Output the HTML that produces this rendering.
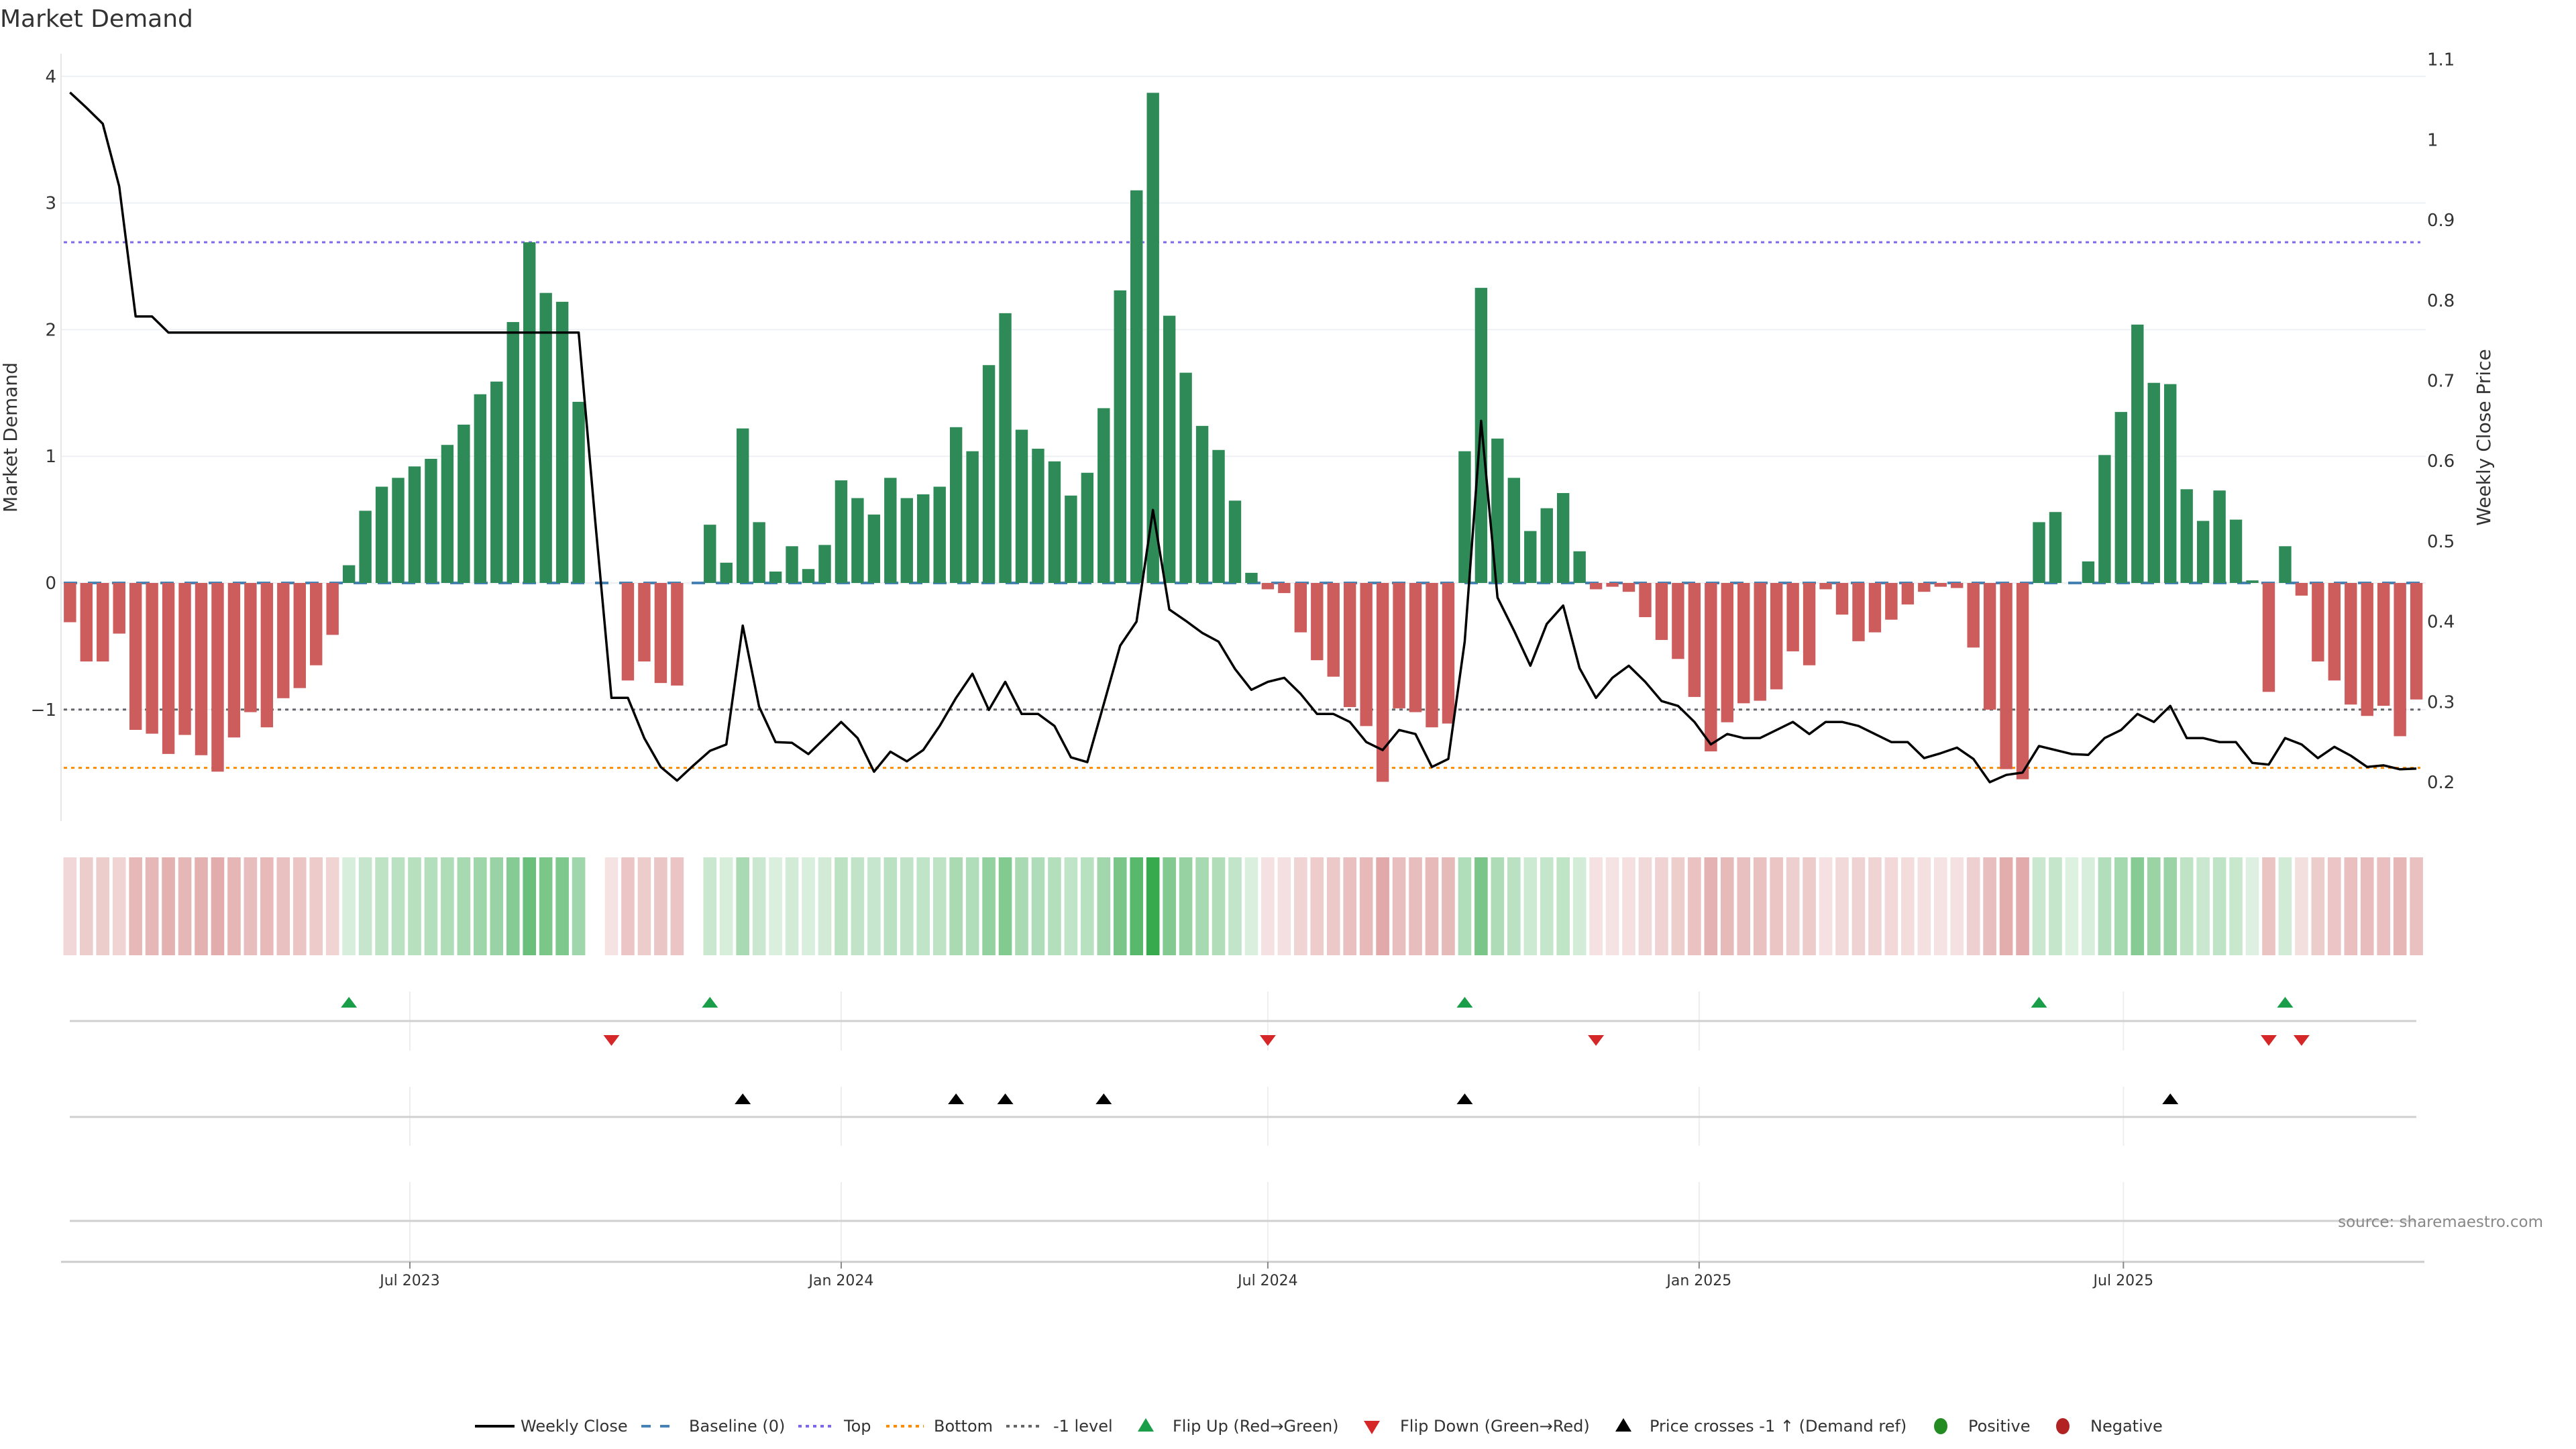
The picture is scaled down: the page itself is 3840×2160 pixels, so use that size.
<!DOCTYPE html>
<html><head><meta charset="utf-8"><style>
html,body{margin:0;padding:0;background:#fff;}
svg{display:block;font-family:"DejaVu Sans","Liberation Sans",sans-serif;}
</style></head><body>
<svg id="chart" width="3840" height="2160" viewBox="0 0 3840 2160" xmlns="http://www.w3.org/2000/svg">
<text x="0" y="40" font-size="36" fill="#333">Market Demand</text>
<g id="grid"></g><g id="hlines"></g><g id="bars"></g><g id="line"></g><g id="heat"></g><g id="events"></g><g id="axes"></g><g id="legend"></g>
</svg>
<script>
const demand=[-0.31,-0.62,-0.62,-0.40,-1.16,-1.19,-1.35,-1.20,-1.36,-1.49,-1.22,-1.02,-1.14,-0.91,-0.83,-0.65,-0.41,0.14,0.57,0.76,0.83,0.92,0.98,1.09,1.25,1.49,1.59,2.06,2.69,2.29,2.22,1.43,null,-0.01,-0.77,-0.62,-0.79,-0.81,null,0.46,0.16,1.22,0.48,0.09,0.29,0.11,0.30,0.81,0.67,0.54,0.83,0.67,0.70,0.76,1.23,1.04,1.72,2.13,1.21,1.06,0.96,0.69,0.87,1.38,2.31,3.10,3.87,2.11,1.66,1.24,1.05,0.65,0.08,-0.05,-0.08,-0.39,-0.61,-0.74,-0.98,-1.13,-1.57,-0.99,-1.02,-1.14,-1.11,1.04,2.33,1.14,0.83,0.41,0.59,0.71,0.25,-0.05,-0.03,-0.07,-0.27,-0.45,-0.60,-0.90,-1.33,-1.10,-0.95,-0.93,-0.84,-0.54,-0.65,-0.05,-0.25,-0.46,-0.39,-0.29,-0.17,-0.07,-0.03,-0.04,-0.51,-1.00,-1.47,-1.55,0.48,0.56,0.01,0.17,1.01,1.35,2.04,1.58,1.57,0.74,0.49,0.73,0.50,0.02,-0.86,0.29,-0.10,-0.62,-0.77,-0.96,-1.05,-0.97,-1.21,-0.92];
const closePrice=[1.059,1.040,1.020,0.942,0.780,0.780,0.760,0.760,0.760,0.760,0.760,0.760,0.760,0.760,0.760,0.760,0.760,0.760,0.760,0.760,0.760,0.760,0.760,0.760,0.760,0.760,0.760,0.760,0.760,0.760,0.760,0.760,0.528,0.305,0.305,0.255,0.219,0.202,0.221,0.239,0.247,0.395,0.294,0.250,0.249,0.235,0.255,0.275,0.255,0.213,0.238,0.226,0.240,0.270,0.305,0.335,0.290,0.325,0.285,0.285,0.270,0.231,0.225,0.297,0.370,0.400,0.539,0.415,0.401,0.386,0.375,0.341,0.315,0.325,0.330,0.310,0.285,0.285,0.275,0.250,0.240,0.265,0.260,0.219,0.229,0.375,0.650,0.430,0.389,0.345,0.397,0.420,0.342,0.305,0.330,0.345,0.325,0.301,0.295,0.275,0.247,0.260,0.255,0.255,0.265,0.275,0.260,0.275,0.275,0.270,0.260,0.250,0.250,0.230,0.236,0.243,0.229,0.200,0.209,0.212,0.245,0.240,0.235,0.234,0.255,0.265,0.285,0.275,0.295,0.255,0.255,0.250,0.250,0.224,0.222,0.255,0.247,0.230,0.244,0.233,0.219,0.221,0.216,0.217];
const flipUp=[17,39,85,120,135];
const flipDown=[33,73,93,134,136];
const priceCross=[41,54,57,63,85,128];
const leftTicks=[4,3,2,1,0,-1];
const rightTicks=[1.1,1,0.9,0.8,0.7,0.6,0.5,0.4,0.3,0.2];
const xTickLabels=["Jul 2023","Jan 2024","Jul 2024","Jan 2025","Jul 2025"];
const xTickDates=["2023-07-01","2024-01-01","2024-07-01","2025-01-01","2025-07-01"];
const startDate="2023-02-06";
const levelTop=2.69, levelBottom=-1.46, levelMinus1=-1;

const NS="http://www.w3.org/2000/svg";
function el(tag,attrs,parent,text){const e=document.createElementNS(NS,tag);for(const k in attrs)e.setAttribute(k,attrs[k]);if(text!==undefined)e.textContent=text;parent.appendChild(e);return e;}
const DAY=86400000, t0=Date.parse("2023-07-01"), pxDay=24.46/7;
function xDate(s){return 611+(Date.parse(s)-t0)/DAY*pxDay;}
const x0=xDate(startDate);
function xi(i){return x0+i*24.46;}
function yD(v){return 869-v*188.8;}
function yP(p){return 1166-(p-0.2)*1197;}
const G=id=>document.getElementById(id);

leftTicks.forEach(v=>{
 const l=el('line',{x1:91,x2:3616,y1:yD(v),y2:yD(v),stroke:'#eef0f6','stroke-width':2},G('grid'));
 
 
 const t=el('text',{x:84,y:yD(v)+9,'text-anchor':'end','font-size':26,fill:'#333'},G('axes'),v<0?'\u2212'+Math.abs(v):String(v));
 
 
});
el('line',{x1:91,x2:91,y1:80,y2:1224,stroke:'#e6e6e6','stroke-width':2},G('grid'));
rightTicks.forEach(v=>{
 const t=el('text',{x:3618,y:yP(v)+9,'font-size':26,fill:'#333'},G('axes'),String(v));
 
 
});
let a=el('text',{x:0,y:0,'font-size':28,fill:'#333','text-anchor':'middle',transform:'translate(25,652) rotate(-90)'},G('axes'),'Market Demand');

a=el('text',{x:0,y:0,'font-size':28,fill:'#333','text-anchor':'middle',transform:'translate(3712,652) rotate(-90)'},G('axes'),'Weekly Close Price');


demand.forEach((v,i)=>{
 if(v===null||Math.abs(v)<0.015)return;
 const y=Math.min(yD(v),yD(0)),h=Math.abs(yD(v)-yD(0));
 const r=el('rect',{x:xi(i)-9.2,y:y,width:18.4,height:Math.max(h,1),fill:v>=0?'#2e8b57':'#cd5c5c'},G('bars'));
 
 
});
const hl=[[0,'#4682b4','20 16',4,'baseline-line'],[levelTop,'#7b68ee','5 6',3,'top-level-line'],[levelBottom,'#ff8c00','5 6',3,'bottom-level-line'],[levelMinus1,'#666','5 6',3,'minus1-level-line']];
hl.forEach(h=>{
 const l=el('line',{x1:95,x2:3608,y1:yD(h[0]),y2:yD(h[0]),stroke:h[1],'stroke-dasharray':h[2],'stroke-width':h[3]},G('hlines'));
 
 
});
const pl=el('polyline',{points:closePrice.map((p,i)=>xi(i).toFixed(1)+','+yP(p).toFixed(1)).join(' '),fill:'none',stroke:'#000','stroke-width':3.5,'stroke-linejoin':'round'},G('line'));



const mx=3.87;
demand.forEach((v,i)=>{
 if(v===null)return;
 const al=0.15+0.75*Math.abs(v)/mx;
 const base=v>=0?[33,160,58]:[190,66,66];
 const c=base.map(b=>Math.round(255-(255-b)*al));
 const r=el('rect',{x:xi(i)-9.8,y:1278,width:19.6,height:146,fill:'rgb('+c.join(',')+')'},G('heat'));
 
 
});

[[1522,1478,1566],[1665,1620,1708],[1820,1762,1881]].forEach(r=>{
 xTickDates.forEach(d=>{el('line',{x1:xDate(d),x2:xDate(d),y1:r[1],y2:r[2],stroke:'#eceff2','stroke-width':2},G('grid'));});
 const l=el('line',{x1:104,x2:3602,y1:r[0],y2:r[0],stroke:'#d0d0d0','stroke-width':3},G('events'));
 
 
});
function tri(x,y,up,fill,name){
 const p=up?[[x-12,y+8],[x+12,y+8],[x,y-8]]:[[x-12,y-8],[x+12,y-8],[x,y+8]];
 const t=el('polygon',{points:p.map(q=>q.join(',')).join(' '),fill:fill},G('events'));
 
 
}
flipUp.forEach(i=>tri(xi(i),1494,true,'#1a9e4a','flip-up-marker'));
flipDown.forEach(i=>tri(xi(i),1551,false,'#d62728','flip-down-marker'));
priceCross.forEach(i=>tri(xi(i),1638,true,'#000','price-cross-marker'));

el('line',{x1:91,x2:3614,y1:1881,y2:1881,stroke:'#ccc','stroke-width':3},G('axes'));
xTickDates.forEach((d,k)=>{
 el('line',{x1:xDate(d),x2:xDate(d),y1:1881,y2:1891,stroke:'#888','stroke-width':2},G('axes'));
 const t=el('text',{x:xDate(d),y:1916,'text-anchor':'middle','font-size':22,fill:'#333'},G('axes'),xTickLabels[k]);
 
 
});
a=el('text',{x:3791,y:1829,'text-anchor':'end','font-size':23,fill:'#888'},G('axes'),'source: sharemaestro.com');


const L=G('legend'), ly=2126;
function ltext(x,s){const t=el('text',{x:x,y:ly+8,'font-size':24,fill:'#333'},L,s);}
el('line',{x1:708,x2:767,y1:ly,y2:ly,stroke:'#000','stroke-width':4},L);ltext(776,'Weekly Close');
el('line',{x1:956,x2:1010,y1:ly,y2:ly,stroke:'#4682b4','stroke-width':4,'stroke-dasharray':'14 14'},L);ltext(1027,'Baseline (0)');
el('line',{x1:1190,x2:1245,y1:ly,y2:ly,stroke:'#7b68ee','stroke-width':4,'stroke-dasharray':'5 6'},L);ltext(1258,'Top');
el('line',{x1:1321,x2:1377,y1:ly,y2:ly,stroke:'#ff8c00','stroke-width':4,'stroke-dasharray':'5 6'},L);ltext(1392,'Bottom');
el('line',{x1:1500,x2:1555,y1:ly,y2:ly,stroke:'#666','stroke-width':4,'stroke-dasharray':'5 6'},L);ltext(1570,'-1 level');
el('polygon',{points:'1696,2134 1720,2134 1708,2114',fill:'#1a9e4a'},L);ltext(1748,'Flip Up (Red\u2192Green)');
el('polygon',{points:'2033,2118 2057,2118 2045,2138',fill:'#d62728'},L);ltext(2087,'Flip Down (Green\u2192Red)');
el('polygon',{points:'2408,2134 2432,2134 2420,2114',fill:'#000'},L);ltext(2459,'Price crosses -1 \u2191 (Demand ref)');
el('ellipse',{cx:2893,cy:ly,rx:10,ry:12,fill:'#228b22'},L);ltext(2934,'Positive');
el('ellipse',{cx:3075,cy:ly,rx:10,ry:12,fill:'#b22222'},L);ltext(3116,'Negative');
</script>
</body></html>
